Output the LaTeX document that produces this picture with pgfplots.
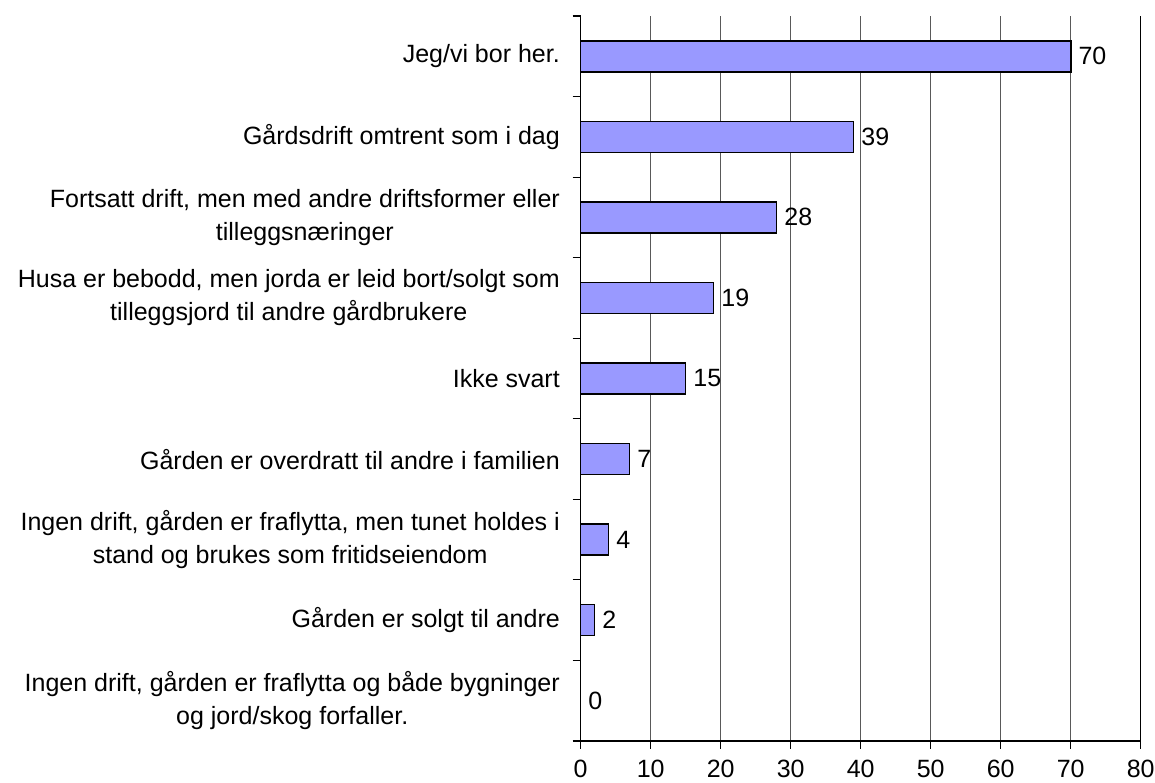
\documentclass[border=0pt]{standalone}
\usepackage{pgfplots}
\pgfplotsset{compat=1.18}
\usepackage{fontspec}
\setmainfont{Liberation Sans}
\definecolor{barblue}{HTML}{9999FF}
\newcommand{\bigfont}{\fontsize{25}{33}\selectfont}
\begin{document}
\bigfont
\begin{tikzpicture}
\useasboundingbox (-580.7pt,-42pt) rectangle (574.3pt,741pt);
\begin{axis}[
  at={(0pt,0pt)}, anchor=south west,
  scale only axis, width=560pt, height=725pt,
  xbar, bar width=31pt,
  xmin=0, xmax=80, ymin=-0.5, ymax=8.5,
  xtick={0,10,...,80},
  ytick={0,...,8},
  yticklabels={{Ingen drift, gården er fraflytta og både bygninger\\og jord/skog forfaller.},
    {Gården er solgt til andre},
    {Ingen drift, gården er fraflytta, men tunet holdes i\\stand og brukes som fritidseiendom},
    {Gården er overdratt til andre i familien},
    {Ikke svart},
    {Husa er bebodd, men jorda er leid bort/solgt som\\tilleggsjord til andre gårdbrukere},
    {Fortsatt drift, men med andre driftsformer eller\\tilleggsnæringer},
    {Gårdsdrift omtrent som i dag},
    {Jeg/vi bor her.}},
  minor ytick={-0.5,0.5,...,8.5},
  axis lines*=left,
  axis line style={black, line width=1.2pt, -},
  tick align=outside,
  major tick length=8pt, minor tick length=8pt,
  major y tick style={draw=none},
  minor y tick style={black, line width=1.2pt},
  major x tick style={black, line width=1.2pt},
  xmajorgrids, major grid style={black!65, line width=0.8pt},
  /pgf/number format/assume math mode=true,
  tick label style={font=\bigfont},
  yticklabel style={align=center, inner sep=0pt, xshift=-12.7pt},
  xticklabel style={inner sep=0pt, yshift=-11pt},
  nodes near coords,
  nodes near coords style={font=\bigfont, inner sep=0pt, xshift=7pt, black},
  clip=false,
]
\addplot[fill=barblue, draw=black, line width=1.6pt] coordinates {
  (0,0) (2,1) (4,2) (7,3) (15,4) (19,5) (28,6) (39,7) (70,8)
};
\draw[black, line width=1.2pt] (axis cs:80,-0.5) -- (axis cs:80,8.5);
\end{axis}
\end{tikzpicture}
\end{document}
